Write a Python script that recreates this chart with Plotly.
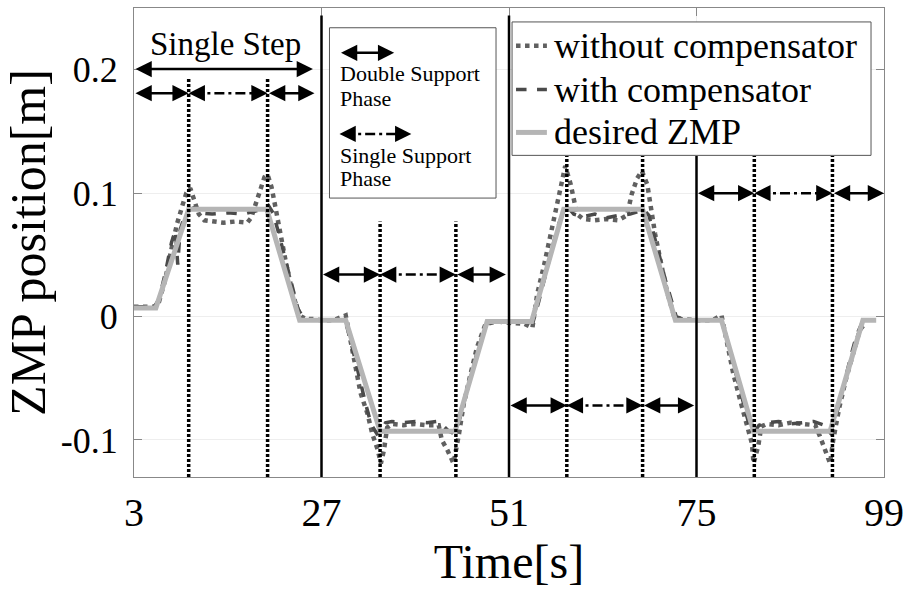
import plotly.graph_objects as go

FONT = "'Liberation Serif', 'Times New Roman', serif"

# ---------------- data ----------------
t_desired = [3, 5.8, 10.0, 20.0, 24.2, 30.1, 34.5, 44.1, 48.2, 53.9, 58.0, 68.1, 72.3, 78.2, 82.3, 92.1, 96.3, 98.0]
zmp_desired = [0.007, 0.007, 0.087, 0.087, -0.003, -0.003, -0.093, -0.093, -0.004, -0.004, 0.087, 0.087,
               -0.003, -0.003, -0.093, -0.093, -0.003, -0.003]

t_without = [3, 5.6, 6.2, 7.0, 7.8, 8.5, 9.2, 9.7, 10.2, 10.7, 11.3, 12.0, 13, 14.5, 16, 17.5, 18.0, 18.5, 19.2,
             19.7, 20.1, 20.6, 21.0, 21.4, 21.8, 22.5, 23.2, 23.8, 24.4, 25, 26,
             27, 28.5, 30.1, 30.7, 31.4, 32.0, 32.9, 33.5, 34.2, 34.6, 35.0, 35.4, 36, 37.5, 39, 40.5, 42.0,
             42.4, 43.1, 43.9, 44.6, 45.2, 46.1, 46.9, 48.0, 49.5,
             51, 53, 54.0, 54.6, 55.5, 56.3, 57.2, 57.8, 58.2, 58.9, 59.3, 59.7, 60.5, 62, 63.5, 65, 66.1,
             66.7, 67.4, 68.0, 68.7, 69.1, 69.7, 70.4, 71.2, 72.1, 73,
             75, 77, 78.2, 79.1, 79.7, 80.6, 81.4, 82.1, 82.3, 82.9, 83.3, 84, 85.5, 87, 88.5, 90.2, 90.8,
             91.4, 92.1, 92.5, 93.3, 94.2, 95.0, 95.9, 96.5]
zmp_without = [0.008, 0.008, 0.012, 0.030, 0.055, 0.075, 0.090, 0.100, 0.104, 0.095, 0.083, 0.078, 0.077, 0.076,
               0.077, 0.076, 0.080, 0.090, 0.104, 0.113, 0.115, 0.105, 0.092, 0.078, 0.062, 0.042, 0.022, 0.008,
               0.000, -0.002, -0.002,
               -0.003, -0.003, 0.001, -0.019, -0.041, -0.062, -0.079, -0.095, -0.108, -0.119, -0.108, -0.090,
               -0.087, -0.088, -0.087, -0.088, -0.088, -0.100, -0.108, -0.119, -0.095, -0.071, -0.046, -0.025,
               -0.006, -0.004,
               -0.005, -0.006, -0.009, 0.018, 0.042, 0.067, 0.094, 0.112, 0.122, 0.107, 0.094, 0.083, 0.079,
               0.078, 0.079, 0.078, 0.082, 0.099, 0.112, 0.118, 0.107, 0.091, 0.067, 0.045, 0.021, 0.001, -0.002,
               -0.003, -0.003, 0.001, -0.027, -0.046, -0.068, -0.087, -0.103, -0.119, -0.105, -0.089, -0.087,
               -0.088, -0.086, -0.087, -0.088, -0.097, -0.108, -0.119, -0.100, -0.073, -0.049, -0.030, -0.011,
               -0.006]

t_with = [3, 5.6, 6.2, 7.0, 7.8, 8.3, 8.6, 8.9, 9.4, 10.0, 10.6, 11.5, 13, 15, 17, 18.5, 19.5, 20.2, 20.8, 21.5,
          22.3, 23.2, 24.0, 24.8, 26,
          27, 28.5, 30.0, 30.6, 31.3, 32.0, 32.7, 33.4, 34.1, 34.6, 35.2, 36, 37.5, 39, 40.5, 41.8, 42.5, 43.3,
          44.0, 44.6, 45.3, 46.0, 46.8, 47.6, 48.3, 49.5,
          51, 53, 54.1, 54.8, 55.6, 56.4, 57.2, 58.0, 58.6, 59.3, 60.5, 62, 63.5, 65, 66.5, 67.5, 68.2, 68.9,
          69.6, 70.3, 71.0, 71.7, 72.4, 73.5,
          75, 77, 78.2, 78.9, 79.6, 80.3, 81.0, 81.7, 82.4, 83.0, 84, 85.5, 87, 88.5, 90, 91.3, 92.1, 92.7, 93.4,
          94.1, 94.8, 95.5, 96.2, 96.7]
zmp_with = [0.008, 0.008, 0.014, 0.035, 0.060, 0.070, 0.042, 0.070, 0.080, 0.086, 0.088, 0.084, 0.083, 0.084,
            0.083, 0.085, 0.087, 0.090, 0.084, 0.068, 0.048, 0.025, 0.006, -0.002, -0.003,
            -0.003, -0.003, -0.003, -0.016, -0.035, -0.055, -0.072, -0.088, -0.095, -0.093, -0.086, -0.085,
            -0.086, -0.085, -0.086, -0.085, -0.088, -0.093, -0.095, -0.085, -0.068, -0.050, -0.032, -0.015,
            -0.005, -0.004,
            -0.004, -0.004, -0.004, 0.012, 0.032, 0.052, 0.072, 0.086, 0.088, 0.083, 0.081, 0.083, 0.080, 0.082,
            0.083, 0.085, 0.087, 0.082, 0.066, 0.048, 0.030, 0.014, 0.000, -0.003,
            -0.003, -0.003, -0.003, -0.018, -0.036, -0.054, -0.071, -0.087, -0.094, -0.088, -0.086, -0.085,
            -0.087, -0.086, -0.085, -0.088, -0.094, -0.085, -0.066, -0.048, -0.031, -0.015, -0.005, -0.004]

x_ticks = [3, 27, 51, 75, 99]
y_ticks = [-0.1, 0, 0.1, 0.2]
y_ticktext = ["-0.1", "0", "0.1", "0.2"]

step_bounds = [3, 27, 51, 75, 99]
phase_switch = [(10.0, 20.1), (34.5, 44.2), (58.4, 68.1), (82.4, 92.4)]
phase_arrow_end = [26.1, 50.6, 74.7, 99.0]
phase_arrow_y = [0.181, 0.034, -0.072, 0.100]
dotted_top = [0.193, 0.077, 0.13, 0.13]

legend_names = ["without compensator", "with compensator", "desired ZMP"]
legend_rows = [0.2194, 0.1839, 0.1492]

COL_WITHOUT = "#606060"
COL_WITH = "#4a4a4a"
COL_DES = "#b5b5b5"
styles = [dict(color=COL_WITHOUT, width=4.5, dash="dot"),
          dict(color=COL_WITH, width=3.5, dash="dash"),
          dict(color=COL_DES, width=5)]

# ---------------- figure ----------------
fig = go.Figure()
fig.add_trace(go.Scatter(x=t_without, y=zmp_without, mode="lines", name=legend_names[0],
                         line=styles[0], showlegend=False))
fig.add_trace(go.Scatter(x=t_with, y=zmp_with, mode="lines", name=legend_names[1],
                         line=styles[1], showlegend=False))
fig.add_trace(go.Scatter(x=t_desired, y=zmp_desired, mode="lines", name=legend_names[2],
                         line=styles[2], showlegend=False))

shapes = []
ann = []

# solid vertical step boundaries
for xb, top in [(27, 0.244), (51, 0.244), (75, 0.13)]:
    shapes.append(dict(type="line", xref="x", yref="y", x0=xb, x1=xb, y0=-0.13, y1=top,
                       line=dict(color="black", width=2.5)))

# dotted phase switches
for (a, b), top in zip(phase_switch, dotted_top):
    for xv in (a, b):
        shapes.append(dict(type="line", xref="x", yref="y", x0=xv, x1=xv, y0=-0.13, y1=top,
                           line=dict(color="black", width=3.5, dash="3px,2px")))


def double_arrow(x0, x1, y):
    ann.append(dict(x=x1, y=y, ax=x0, ay=y, xref="x", yref="y", axref="x", ayref="y", text="",
                    showarrow=True, arrowhead=2, arrowsize=1.3, arrowwidth=2.5, arrowcolor="black",
                    arrowside="end+start", standoff=0, startstandoff=0))


def dashdot_arrow(x0, x1, y):
    shapes.append(dict(type="line", xref="x", yref="y", x0=x0 + 0.6, x1=x1 - 0.6, y0=y, y1=y,
                       line=dict(color="black", width=2.5, dash="10px,4px,3px,4px")))
    for xe, xs in ((x1, x1 - 0.8), (x0, x0 + 0.8)):
        ann.append(dict(x=xe, y=y, ax=xs, ay=y, xref="x", yref="y", axref="x", ayref="y", text="",
                        showarrow=True, arrowhead=2, arrowsize=1.3, arrowwidth=2.5, arrowcolor="black",
                        standoff=0, startstandoff=0))


for i in range(4):
    s = step_bounds[i]
    a, b = phase_switch[i]
    y = phase_arrow_y[i]
    double_arrow(s, a, y)
    dashdot_arrow(a, b, y)
    double_arrow(b, phase_arrow_end[i], y)

# single step arrow and text
double_arrow(3, 25.9, 0.2005)
ann.append(dict(x=14.75, y=0.221, xref="x", yref="y", text="Single Step", showarrow=False,
                font=dict(family=FONT, size=33, color="black")))

# inset explanation box
shapes.append(dict(type="rect", xref="x", yref="y", x0=28.02, x1=49.34, y0=0.096, y1=0.234,
                   fillcolor="white", line=dict(color="#555555", width=1)))
double_arrow(29.3, 36.3, 0.2137)
dashdot_arrow(29.3, 38.5, 0.148)
for txt, yy in [("Double Support", 0.1968), ("Phase", 0.1765), ("Single Support", 0.1305), ("Phase", 0.1115)]:
    ann.append(dict(x=29.1, y=yy, xref="x", yref="y", text=txt, showarrow=False, xanchor="left",
                    yanchor="middle", font=dict(family=FONT, size=22, color="black")))

# legend box (drawn manually to match the boxed MATLAB-style legend)
shapes.append(dict(type="rect", xref="x", yref="y", x0=51.39, x1=97.34, y0=0.1306, y1=0.2387,
                   fillcolor="white", line=dict(color="#555555", width=1)))
for name, yy, st in zip(legend_names, legend_rows, styles):
    shapes.append(dict(type="line", xref="x", yref="y", x0=51.9, x1=55.85, y0=yy, y1=yy, line=st))
    ann.append(dict(x=56.55, y=yy, xref="x", yref="y", text=name, showarrow=False, xanchor="left",
                    yanchor="middle", font=dict(family=FONT, size=36, color="black")))

fig.update_layout(
    width=911, height=593,
    margin=dict(l=134, r=24, t=7, b=116),
    paper_bgcolor="white", plot_bgcolor="white",
    font=dict(family=FONT, color="black"),
    shapes=shapes, annotations=ann,
    showlegend=False,
    xaxis=dict(range=[3, 99], tickvals=x_ticks, ticks="inside", ticklen=8, tickcolor="#888888",
               showline=True, linecolor="#888888", linewidth=1, mirror="ticks", showgrid=True,
               gridcolor="#eeeeee", zeroline=False, tickfont=dict(family=FONT, size=40, color="black"),
               title=dict(text="Time[s]", font=dict(family=FONT, size=48, color="black"), standoff=8)),
    yaxis=dict(range=[-0.13, 0.25], tickvals=y_ticks, ticktext=y_ticktext, ticks="inside", ticklen=8,
               tickcolor="#888888", showline=True, linecolor="#888888", linewidth=1, mirror="ticks",
               showgrid=True, gridcolor="#eeeeee", zeroline=False, ticklabelstandoff=8,
               tickfont=dict(family=FONT, size=36, color="black"),
               title=dict(text="ZMP position[m]", font=dict(family=FONT, size=50, color="black"), standoff=4)),
)

fig.write_html("out.html", config={"displayModeBar": False},
               post_script="document.body.style.margin='0px';document.body.style.overflow='hidden';")
